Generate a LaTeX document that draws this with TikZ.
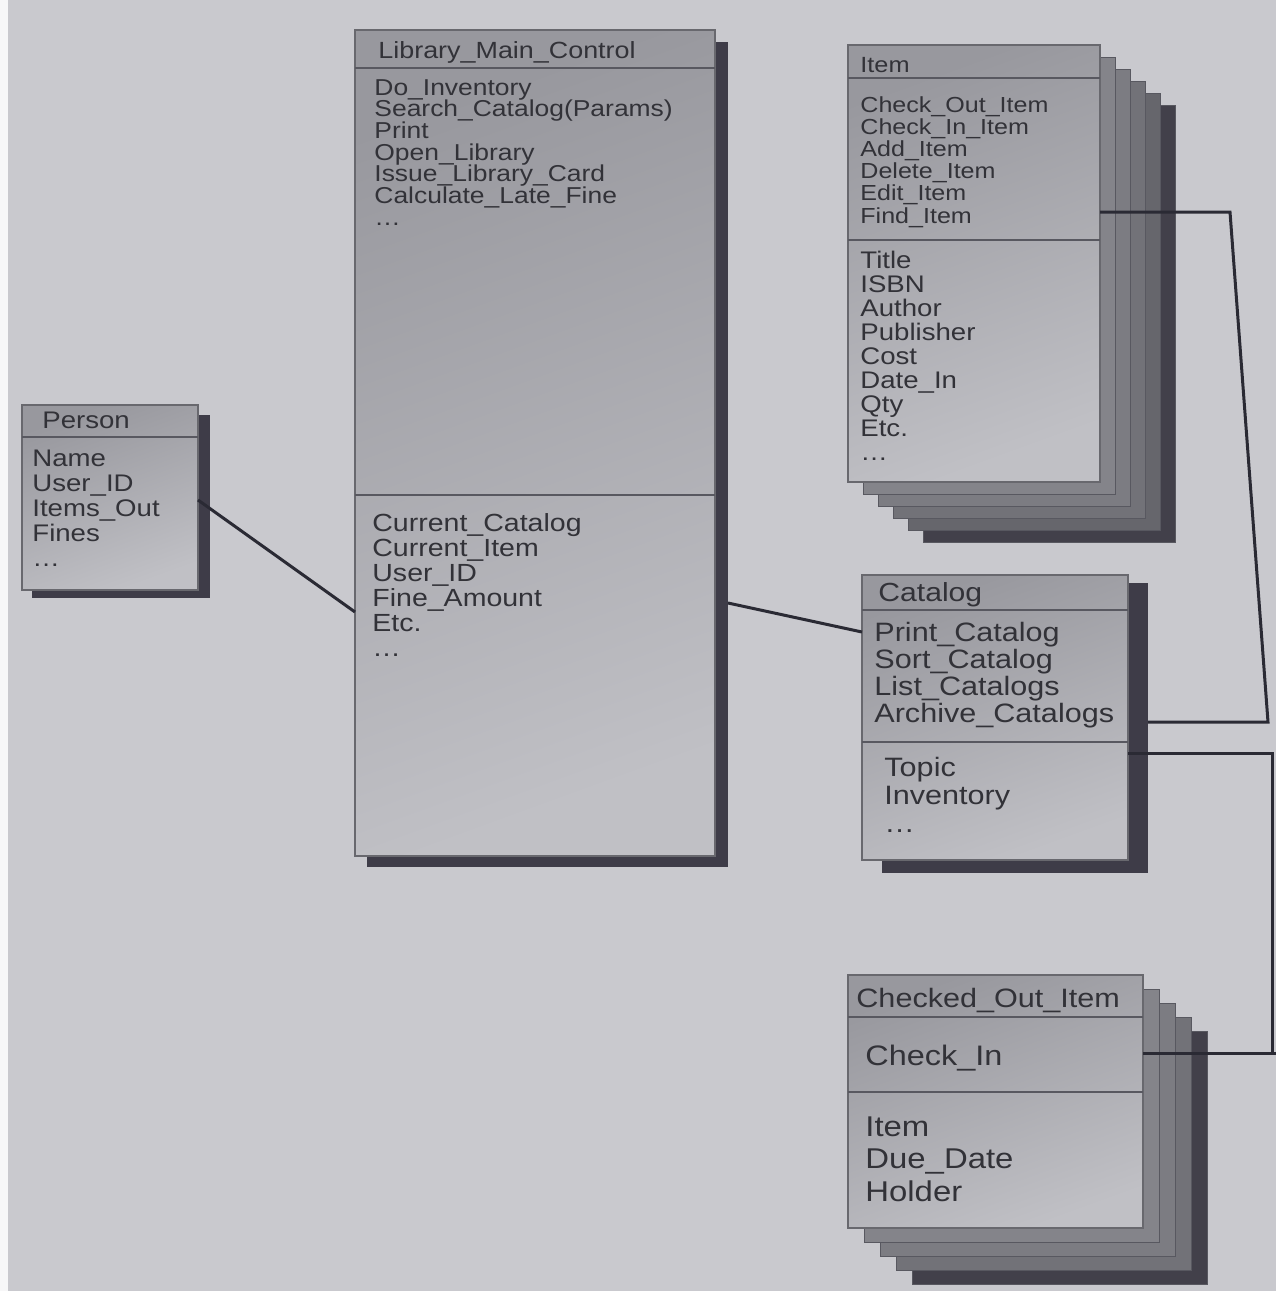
\documentclass[tikz,border=0pt]{standalone}
\usepackage{fontspec}
\setmainfont{Liberation Sans}
\newfontfamily\umlfont[FakeStretch=1.15]{Liberation Sans}
\usetikzlibrary{calc}

\definecolor{page}{RGB}{201,201,206}
\definecolor{ink}{RGB}{50,50,56}
\definecolor{rule}{RGB}{88,88,96}
\definecolor{edge}{RGB}{104,104,110}
\definecolor{shadowc}{RGB}{62,60,72}
\definecolor{wire}{RGB}{42,42,52}
\definecolor{mlight}{RGB}{192,192,197}
\definecolor{mmid}{RGB}{152,152,158}
\definecolor{mdark}{RGB}{116,116,123}
\definecolor{stk1}{RGB}{132,132,138}
\definecolor{stk2}{RGB}{124,124,130}
\definecolor{stk3}{RGB}{114,114,120}
\definecolor{stk4}{RGB}{102,102,108}
\definecolor{stk5}{RGB}{66,64,74}

\tikzset{
  classbox/.style={draw=edge, line width=0.6pt, inner sep=0pt, outer sep=0pt,
    top color=mmid, middle color=mdark, bottom color=mlight, shading angle=20},
  dropshadow/.style={fill=shadowc, draw=none, inner sep=0pt, outer sep=0pt},
  layer/.style={fill=#1, draw=rule, line width=0.5pt},
  rulel/.style={draw=rule, line width=0.9pt},
  wirel/.style={draw=wire, line width=1.5pt, line join=miter},
  linetext/.style={anchor=base west, inner sep=0pt, text=ink}
}

% a rectangle node from its top-left and bottom-right corners
\newcommand\rectnode[6]{%
  \node[#2, anchor=north west, minimum width={(#5-#3)*0.5pt},
        minimum height={(#6-#4)*0.5pt}] (#1) at (#3,#4) {};}
% a column of text lines: prefix, x, first baseline, skip, size (pt), lines
\newcommand\classlines[6]{%
  \foreach \txt [count=\k] in {#6}
    \node[linetext, font={\umlfont\fontsize{#5}{#5}\selectfont}]
      (#1-\k) at (#2,{#3+(\k-1)*#4}) {\txt};}

\begin{document}
\begin{tikzpicture}[x=0.5pt,y=-0.5pt]
\useasboundingbox (0,0) rectangle (1276,1291);
\fill[page] (0,0) rectangle (1276,1291);
\fill[white!85!page] (0,0) rectangle (8,1291);

% ---------- Person ----------
\rectnode{personshadow}{dropshadow}{32}{415}{210}{598}
\rectnode{person}{classbox}{22}{405}{198}{590}
\draw[rulel] (person.west |- 0,437) -- (person.east |- 0,437);
\node[linetext, font={\umlfont\fontsize{12}{12}\selectfont}] (person-title) at (42,428) {Person};
\classlines{person-a}{32}{466}{25}{12}{Name,User\_ID,Items\_Out,Fines,\ldots}

% ---------- Library_Main_Control ----------
\rectnode{libshadow}{dropshadow}{367}{42}{728}{867}
\rectnode{lib}{classbox}{355}{30}{715}{856}
\draw[rulel] (lib.west |- 0,68) -- (lib.east |- 0,68);
\draw[rulel] (lib.west |- 0,495) -- (lib.east |- 0,495);
\node[linetext, font={\umlfont\fontsize{11.7}{11.7}\selectfont}] (lib-title) at (378,58) {Library\_Main\_Control};
\classlines{lib-op}{374}{95}{21.7}{11.5}{Do\_Inventory,Search\_Catalog(Params),Print,Open\_Library,Issue\_Library\_Card,Calculate\_Late\_Fine,\ldots}
\classlines{lib-a}{372}{531}{25}{12.4}{Current\_Catalog,Current\_Item,User\_ID,Fine\_Amount,Etc.,\ldots}

% ---------- Item (multiple instances) ----------
\foreach \i/\c in {5/stk5,4/stk4,3/stk3,2/stk2,1/stk1}
  \path[layer=\c] ({848+15*\i},{45+12*\i}) rectangle ({1100+15*\i},{482+12*\i});
\rectnode{item}{classbox}{848}{45}{1100}{482}
\draw[rulel] (item.west |- 0,78) -- (item.east |- 0,78);
\draw[rulel] (item.west |- 0,240) -- (item.east |- 0,240);
\node[linetext, font={\umlfont\fontsize{11}{11}\selectfont}] (item-title) at (860,72) {Item};
\classlines{item-op}{860}{112}{22.2}{10.9}{Check\_Out\_Item,Check\_In\_Item,Add\_Item,Delete\_Item,Edit\_Item,Find\_Item}
\classlines{item-a}{860}{268}{24}{12}{Title,ISBN,Author,Publisher,Cost,Date\_In,Qty,Etc.,\ldots}

% ---------- Catalog ----------
\rectnode{catshadow}{dropshadow}{882}{583}{1148}{873}
\rectnode{cat}{classbox}{862}{575}{1128}{860}
\draw[rulel] (cat.west |- 0,610) -- (cat.east |- 0,610);
\draw[rulel] (cat.west |- 0,742) -- (cat.east |- 0,742);
\node[linetext, font={\umlfont\fontsize{13.1}{13.1}\selectfont}] (cat-title) at (878,601) {Catalog};
\classlines{cat-op}{874}{641}{27}{13.3}{Print\_Catalog,Sort\_Catalog,List\_Catalogs,Archive\_Catalogs}
\classlines{cat-a}{884}{776}{28}{13.3}{Topic,Inventory,\ldots}

% ---------- Checked_Out_Item (multiple instances) ----------
\foreach \i/\c in {4/stk5,3/stk3,2/stk2,1/stk1}
  \path[layer=\c] ({848+16*\i},{975+14*\i}) rectangle ({1143+16*\i},{1228+14*\i});
\rectnode{cko}{classbox}{848}{975}{1143}{1228}
\draw[rulel] (cko.west |- 0,1017) -- (cko.east |- 0,1017);
\draw[rulel] (cko.west |- 0,1092) -- (cko.east |- 0,1092);
\node[linetext, font={\umlfont\fontsize{13.3}{13.3}\selectfont}] (cko-title) at (856,1007) {Checked\_Out\_Item};
\node[linetext, font={\umlfont\fontsize{14.1}{14.1}\selectfont}] (cko-op-1) at (865,1065) {Check\_In};
\classlines{cko-a}{865}{1136}{32.5}{14.3}{Item,Due\_Date,Holder}

% ---------- associations ----------
\draw[wirel] (person.east |- 0,500) -- ($(lib.south west)+(0,-244)$);
\draw[wirel] ($(libshadow.south east)+(0,-264)$) -- (cat.west |- 0,632);

\coordinate (itemturn) at (1230,212);
\coordinate (itemdrop) at (1268,722);
\draw[wirel] (item.east |- 0,212) -- (itemturn) -- (itemdrop) -- (catshadow.east |- 0,722);

\coordinate (catturn) at (1272,753);
\coordinate (ckoturn) at (1272,1053);
\coordinate (ckoend) at (1276,1053);
\draw[wirel] (cat.east |- 0,753) -- (catturn) -- (ckoturn) -- (cko.east |- 0,1053);
\draw[wirel] (ckoturn) -- (ckoend);
\end{tikzpicture}
\end{document}
